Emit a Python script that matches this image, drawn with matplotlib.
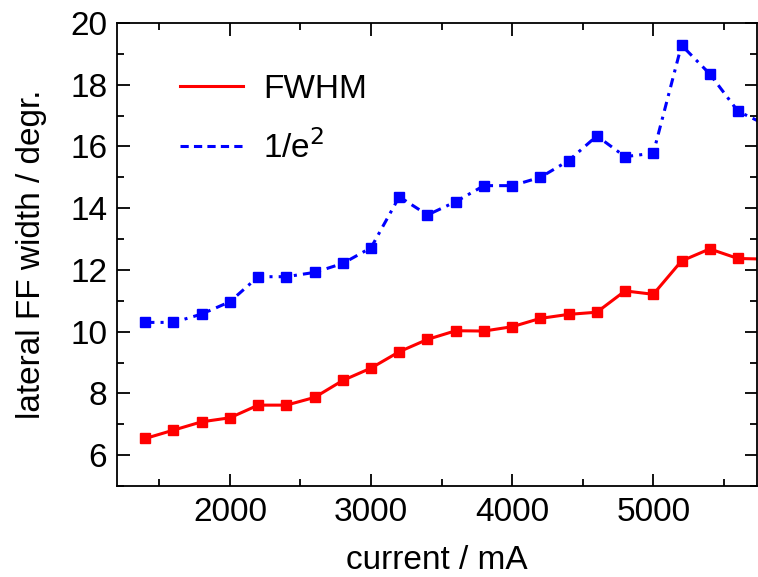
import matplotlib
matplotlib.use("Agg")
import matplotlib.pyplot as plt
from matplotlib.lines import Line2D
from matplotlib.ticker import MultipleLocator

plt.rcParams['font.family'] = ['Liberation Sans', 'DejaVu Sans']

# data
current = [1400, 1600, 1800, 2000, 2200, 2400, 2600, 2800, 3000, 3200, 3400,
           3600, 3800, 4000, 4200, 4400, 4600, 4800, 5000, 5200, 5400, 5600, 5800]
fwhm = [6.54, 6.81, 7.08, 7.21, 7.62, 7.62, 7.87, 8.42, 8.82, 9.35, 9.75,
        10.03, 10.02, 10.16, 10.43, 10.56, 10.63, 11.32, 11.21, 12.29, 12.68, 12.37, 12.35]
e2 = [10.30, 10.30, 10.57, 10.97, 11.78, 11.78, 11.92, 12.21, 12.72, 14.37, 13.78,
      14.21, 14.73, 14.73, 15.00, 15.54, 16.34, 15.67, 15.78, 19.28, 18.35, 17.14, 16.70]

red = '#ff0000'
blue = '#0000ff'

fig = plt.figure(figsize=(7.58, 5.77), dpi=100)
ax = fig.add_axes([0.1544, 0.1577, 0.8443, 0.8025])

ax.plot(current, fwhm, color=red, lw=2.2, marker='s', ms=7)
ax.plot(current, e2, color=blue, lw=2.2, marker='s', ms=7,
        linestyle=(0, (3, 2, 1, 2)))

ax.set_xlim(1200, 5735)
ax.set_ylim(5, 20)
ax.xaxis.set_major_locator(MultipleLocator(1000))
ax.xaxis.set_minor_locator(MultipleLocator(500))
ax.yaxis.set_major_locator(MultipleLocator(2))
ax.yaxis.set_minor_locator(MultipleLocator(1))
ax.tick_params(which='both', direction='in', top=True, right=True,
               labelsize=24, width=1.3)
ax.tick_params(which='major', length=9)
ax.tick_params(which='minor', length=5)
ax.tick_params(axis='x', pad=8)
ax.tick_params(axis='y', pad=7)
for s in ax.spines.values():
    s.set_linewidth(1.3)

ax.set_xlabel('current / mA', fontsize=24, labelpad=12)
ax.set_ylabel('lateral FF width / degr.', fontsize=24, labelpad=17)

# legend shows lines only, no markers
handles = [Line2D([], [], color=red, lw=2.2),
           Line2D([], [], color=blue, lw=2.2, linestyle=(0, (2.7, 1.7)))]
ax.legend(handles, ['FWHM', '1/e$^2$'], loc='upper left',
          bbox_to_anchor=(0.098, 0.89), frameon=False, fontsize=24,
          borderpad=0, borderaxespad=0,
          handlelength=1.9, handletextpad=0.6, labelspacing=0.75)

fig.savefig('out.png', dpi=100)
